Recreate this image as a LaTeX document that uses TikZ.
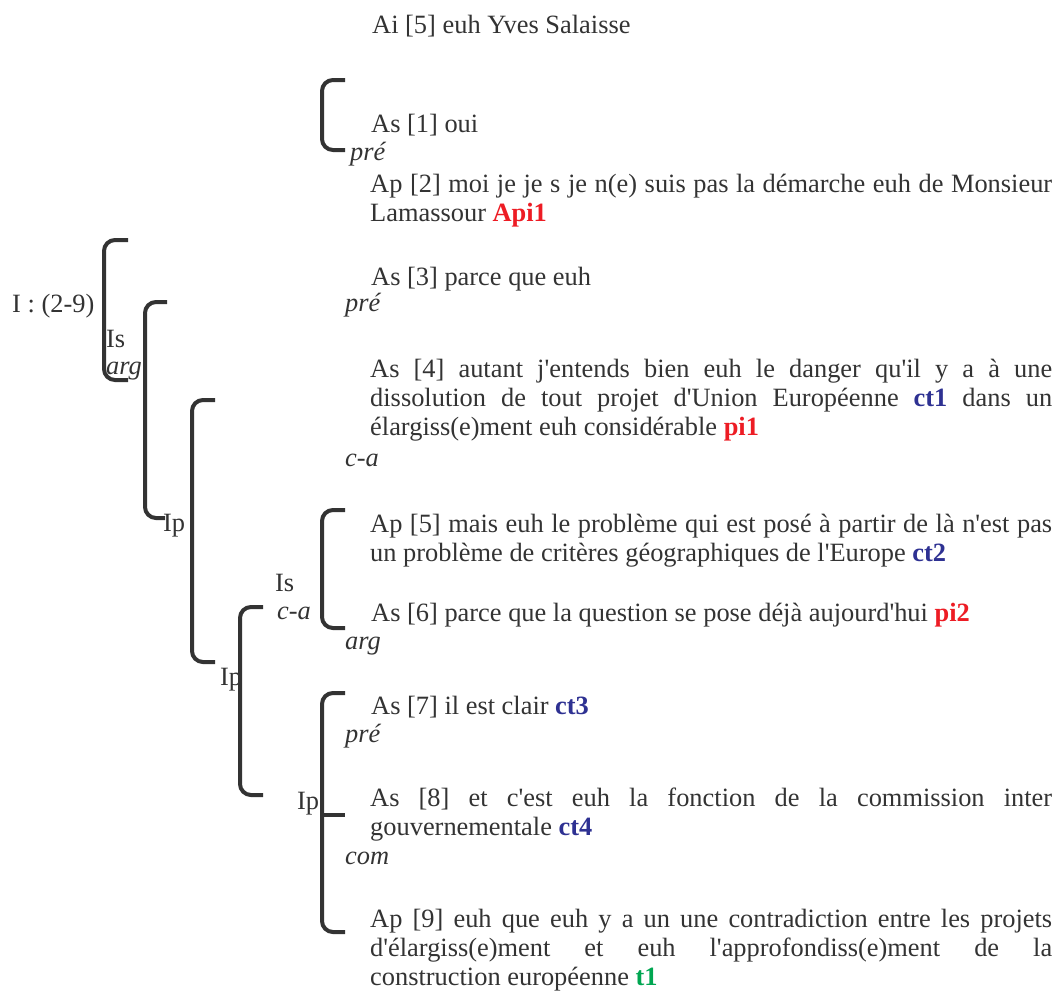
\documentclass[tikz,border=0pt]{standalone}
\usepackage{fontspec}
\setmainfont{Liberation Serif}[Ligatures=TeXOff]
\usepackage{tikz}
\usetikzlibrary{positioning}
\definecolor{ink}{HTML}{333333}
\definecolor{mkred}{HTML}{ED1C24}
\definecolor{mkblue}{HTML}{2E3192}
\definecolor{mkgreen}{HTML}{00A651}
\newcommand{\mred}[1]{\textcolor{mkred}{\textbf{#1}}}
\newcommand{\mblue}[1]{\textcolor{mkblue}{\textbf{#1}}}
\newcommand{\mgreen}[1]{\textcolor{mkgreen}{\textbf{#1}}}
\hyphenpenalty=10000
\exhyphenpenalty=10000

\begin{document}
\begin{tikzpicture}[x=1pt, y=-1pt,
    font=\fontsize{26.4}{29}\selectfont, text=ink]
    \tikzset{
        utt/.style={anchor=base west, inner sep=0pt},
        fn/.style={utt, font=\fontsize{26.4}{29}\selectfont\itshape},
        para/.style={utt, text width=682pt, align=justify},
        brak/.style={draw=ink, line width=4pt, rounded corners=11pt},
    }
    \useasboundingbox (0,0) rectangle (1064,994);

    % brackets
    \draw[brak] (345,80) -| (322,150) -- (345,150);
    \draw[brak] (128,240) -| (104,380) -- (128,380);
    \draw[brak] (167,302) -| (145,518) -- (165,518);
    \draw[brak] (215,400) -| (192,662) -- (215,662);
    \draw[brak] (345,510) -| (322,628) -- (345,628);
    \draw[brak] (263,607) -| (240,795) -- (263,795);
    \draw[brak] (345,693) -| (322,932) -- (345,932);
    \draw[draw=ink, line width=4pt] (322,815) -- (345,815);

    % interventions
    \node[utt] (ai5) at (372,33) {Ai [5] euh Yves Salaisse};
    \node[utt] (as1) at (371,132) {As [1] oui};
    \node[fn] (pre1) at (350,160) {pré};
    \node[para] (ap2) at (370,192) {Ap [2] moi je je s je n(e) suis pas la démarche euh de Monsieur\linebreak Lamassour \mred{Api1}};
    \node[utt] (as3) at (371,285) {As [3] parce que euh};
    \node[fn] (pre2) at (345,311) {pré};
    \node[para] (as4) at (370,377) {As [4] autant j'entends bien euh le danger qu'il y a à une\linebreak dissolution de tout projet d'Union Européenne \mblue{ct1} dans un\linebreak élargiss(e)ment euh considérable \mred{pi1}};
    \node[fn] (ca1) at (345,466) {c-a};
    \node[para] (ap5) at (370,532) {Ap [5] mais euh le problème qui est posé à partir de là n'est pas\linebreak un problème de critères géographiques de l'Europe \mblue{ct2}};
    \node[utt] (as6) at (371,621) {As [6] parce que la question se pose déjà aujourd'hui \mred{pi2}};
    \node[fn] (arg2) at (345,649) {arg};
    \node[utt] (as7) at (371,714) {As [7] il est clair \mblue{ct3}};
    \node[fn] (pre3) at (345,742) {pré};
    \node[para] (as8) at (370,806) {As [8] et c'est euh la fonction de la commission inter\linebreak gouvernementale \mblue{ct4}};
    \node[fn] (com1) at (345,864) {com};
    \node[para] (ap9) at (370,927) {Ap [9] euh que euh y a un une contradiction entre les projets\linebreak d'élargiss(e)ment et euh l'approfondiss(e)ment de la\linebreak construction européenne \mgreen{t1}};

    % constituents
    \node[utt] (i1) at (12,312) {I : (2-9)};
    \node[utt] (is1) at (106,347) {Is};
    \node[fn] (arg1) at (106,374) {arg};
    \node[utt] (ip1) at (163,531) {Ip};
    \node[utt] (is2) at (275,591) {Is};
    \node[fn] (ca2) at (277,619) {c-a};
    \node[utt] (ip2) at (220,685) {Ip};
    \node[utt] (ip3) at (297,809) {Ip};
\end{tikzpicture}
\end{document}
